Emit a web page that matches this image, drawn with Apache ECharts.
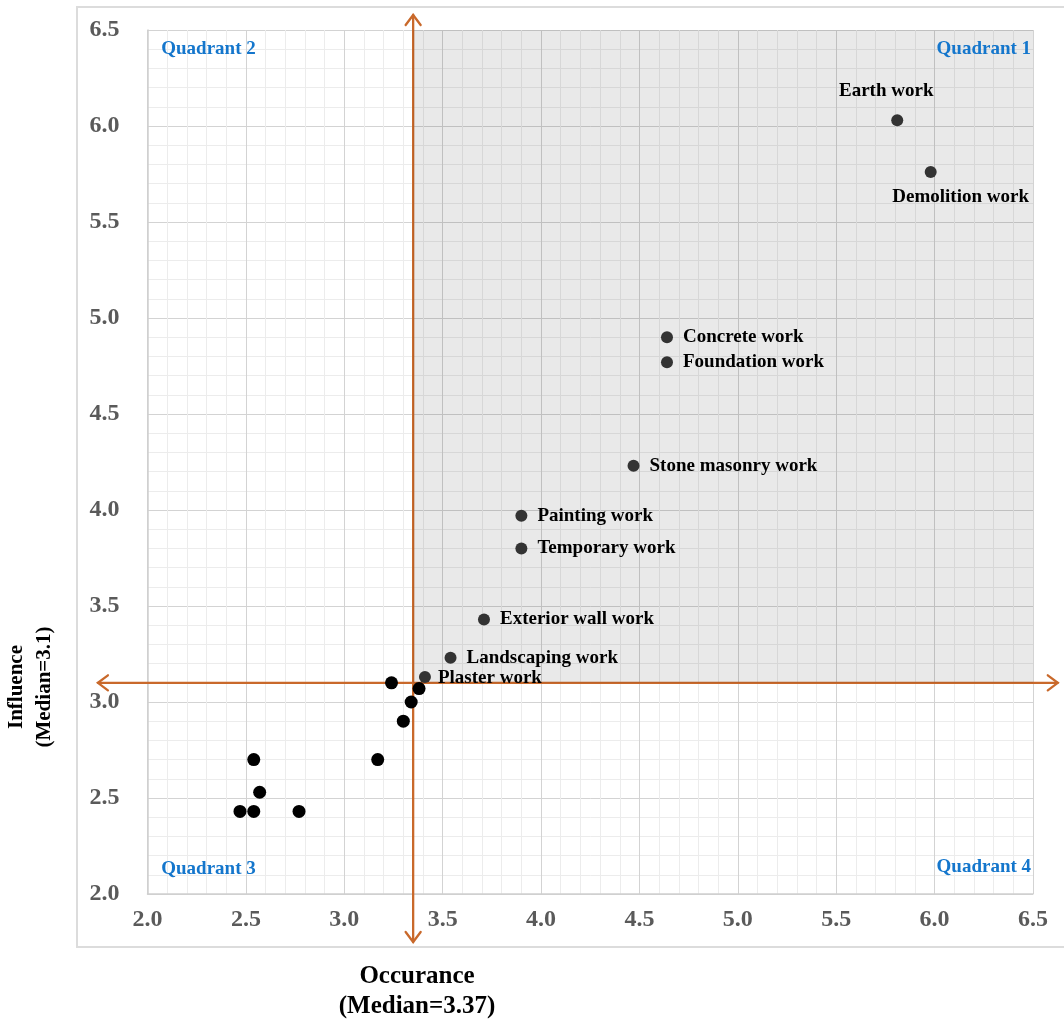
<!DOCTYPE html>
<html>
<head>
<meta charset="utf-8">
<script src="https://cdn.jsdelivr.net/npm/echarts@6/dist/echarts.min.js"></script>
<style>html,body{margin:0;padding:0;background:#fff}#c{width:1064px;height:1022px}</style>
</head>
<body>
<div id="c"></div>
<script>
// ---- data ----
const workNames = ['Earth work','Demolition work','Concrete work','Foundation work','Stone masonry work','Painting work','Temporary work','Exterior wall work','Landscaping work','Plaster work'];
const workOccurance = [5.81, 5.98, 4.64, 4.64, 4.47, 3.90, 3.90, 3.71, 3.54, 3.41];
const workInfluence = [6.03, 5.76, 4.90, 4.77, 4.23, 3.97, 3.80, 3.43, 3.23, 3.13];
const otherOccurance = [3.24, 3.38, 3.34, 3.30, 3.17, 2.54, 2.57, 2.47, 2.54, 2.77];
const otherInfluence = [3.10, 3.07, 3.00, 2.90, 2.70, 2.70, 2.53, 2.43, 2.43, 2.43];
const medianOccurance = 3.37;
const medianInfluence = 3.1;
const arrowXPos = 3.35; // where the vertical divider is drawn in the figure
const axisMin = 2.0, axisMax = 6.5, axisStep = 0.5;
const quadrantNames = ['Quadrant 1','Quadrant 2','Quadrant 3','Quadrant 4'];
const quadrantX = [6.49, 2.07, 2.07, 6.49];
const quadrantY = [6.40, 6.40, 2.13, 2.14];
// arrow extents (data units, beyond the axis range as in the figure)
const vArrowRange = [1.75, 6.578];
const hArrowRange = [1.748, 6.626];

// label placement (styling only)
const labelPlace = {
  'Earth work': {position:'top', distance:14, offset:[-11,0]},
  'Demolition work': {position:'bottom', distance:10, offset:[30,0]},
  'Plaster work': {position:'right', distance:7, offset:[0,1]}
};

const serif = '"Liberation Serif","Times New Roman",serif';
const orange = '#c9692b';

const chart = echarts.init(document.getElementById('c'));

const workData = workNames.map((n,i)=>{
  const p = labelPlace[n] || {position:'right', distance:10, offset:[0,0]};
  return {name:n, value:[workOccurance[i], workInfluence[i]], label:{position:p.position, distance:p.distance, offset:p.offset}};
});
const otherData = otherOccurance.map((x,i)=>[x, otherInfluence[i]]);
const quadData = quadrantNames.map((n,i)=>({name:n, value:[quadrantX[i], quadrantY[i]], label:{align: quadrantX[i] > 4 ? 'right' : 'left'}}));

const axisCommon = {
  type:'value', min:axisMin, max:axisMax, interval:axisStep,
  axisLine:{show:true, lineStyle:{color:'#cfcfcf', width:1.5}},
  axisTick:{show:false},
  splitLine:{show:true, lineStyle:{color:'#d3d3d3', width:1}},
  minorTick:{show:false, splitNumber:5},
  minorSplitLine:{show:true, lineStyle:{color:'#ececec', width:1}},
  axisLabel:{color:'#5a5a5a', fontFamily:serif, fontWeight:'bold', fontSize:24, formatter:v=>v.toFixed(1)}
};

const staticGraphics = [
  {type:'rect', shape:{x:77, y:7, width:1000, height:940}, style:{fill:'none', stroke:'#dcdcdc', lineWidth:2}, z:-10},
  {type:'text', x:417, y:977, style:{text:'Occurance', font:'bold 25px '+serif, fill:'#000', textAlign:'center', textVerticalAlign:'middle'}},
  {type:'text', x:417, y:1007, style:{text:'(Median=3.37)', font:'bold 25px '+serif, fill:'#000', textAlign:'center', textVerticalAlign:'middle'}},
  {type:'text', x:17, y:687, rotation:Math.PI/2, style:{text:'Influence', font:'bold 21px '+serif, fill:'#000', textAlign:'center', textVerticalAlign:'middle'}},
  {type:'text', x:45, y:687, rotation:Math.PI/2, style:{text:'(Median=3.1)', font:'bold 21px '+serif, fill:'#000', textAlign:'center', textVerticalAlign:'middle'}}
];

chart.setOption({
  animation:false,
  backgroundColor:'#fff',
  grid:{left:147.5, right:31, top:30, bottom:128, containLabel:false},
  xAxis: Object.assign({}, axisCommon, {axisLabel:Object.assign({}, axisCommon.axisLabel, {margin:14})}),
  yAxis: Object.assign({}, axisCommon, {axisLabel:Object.assign({}, axisCommon.axisLabel, {margin:28})}),
  graphic: staticGraphics,
  series:[
    {
      type:'scatter', name:'frame', data:[], silent:true, z:0,
      markArea:{silent:true, itemStyle:{color:'rgba(0,0,0,0.085)'}, data:[[{coord:[arrowXPos, medianInfluence]},{coord:[axisMax, axisMax]}]]}
    },
    {
      type:'scatter', name:'work', data:workData, symbolSize:12, z:5,
      itemStyle:{color:'#333', opacity:1},
      label:{show:true, formatter:'{b}', color:'#000', fontFamily:serif, fontWeight:'bold', fontSize:19}
    },
    {
      type:'scatter', name:'other', data:otherData, symbolSize:13, z:5,
      itemStyle:{color:'#000', opacity:1}
    },
    {
      type:'scatter', name:'quadrants', data:quadData, symbolSize:0, silent:true, z:4,
      itemStyle:{opacity:1},
      label:{show:true, position:'inside', formatter:'{b}', color:'#1476cc', fontFamily:serif, fontWeight:'bold', fontSize:19}
    }
  ]
});

// double-headed divider arrows, positioned through the chart's own scales
function arrowGraphics(a, b) {
  const p0 = chart.convertToPixel({gridIndex:0}, a);
  const p1 = chart.convertToPixel({gridIndex:0}, b);
  const dx = p1[0]-p0[0], dy = p1[1]-p0[1];
  const len = Math.hypot(dx, dy), ux = dx/len, uy = dy/len;
  const L = 10, W = 7.5;
  const head = (tip, sx, sy) => [
    [tip[0] - sx*L - sy*W, tip[1] - sy*L + sx*W],
    tip,
    [tip[0] - sx*L + sy*W, tip[1] - sy*L - sx*W]
  ];
  const st = {stroke:orange, lineWidth:2.3, fill:'none', lineJoin:'miter', lineCap:'round'};
  return [
    {type:'line', shape:{x1:p0[0], y1:p0[1], x2:p1[0], y2:p1[1]}, style:st, z:1, silent:true},
    {type:'polyline', shape:{points:head(p1, ux, uy)}, style:st, z:1, silent:true},
    {type:'polyline', shape:{points:head(p0, -ux, -uy)}, style:st, z:1, silent:true}
  ];
}
const arrows = [].concat(
  arrowGraphics([arrowXPos, vArrowRange[0]], [arrowXPos, vArrowRange[1]]),
  arrowGraphics([hArrowRange[0], medianInfluence], [hArrowRange[1], medianInfluence])
);
chart.setOption({graphic: staticGraphics.concat(arrows)});
</script>
</body>
</html>
